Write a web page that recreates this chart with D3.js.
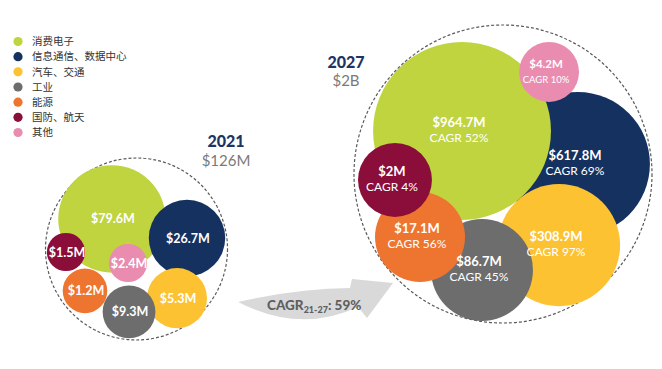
<!DOCTYPE html>
<html><head><meta charset="utf-8">
<script src="https://cdn.jsdelivr.net/npm/d3@7"></script>
<style>
html,body{margin:0;padding:0;background:#fff;}
svg{display:block;}
</style></head>
<body>
<svg id="chart" width="662" height="369"></svg>
<script>
// ---- data ----
const categories = ["消费电子", "信息通信、数据中心", "汽车、交通", "工业", "能源", "国防、航天", "其他"];
const colors = ["#BFD43F", "#15315F", "#FDC232", "#6D6D6D", "#EE7530", "#8A0D3A", "#E98CB0"];
const values2021 = [79.6, 26.7, 5.3, 9.3, 1.2, 1.5, 2.4];
const labels2021 = ["$79.6M", "$26.7M", "$5.3M", "$9.3M", "$1.2M", "$1.5M", "$2.4M"];
const values2027 = [964.7, 617.8, 308.9, 86.7, 17.1, 2, 4.2];
const labels2027 = ["$964.7M", "$617.8M", "$308.9M", "$86.7M", "$17.1M", "$2M", "$4.2M"];
const cagr2027 = ["CAGR 52%", "CAGR 69%", "CAGR 97%", "CAGR 45%", "CAGR 56%", "CAGR 4%", "CAGR 10%"];
const totals = [{year: "2021", total: "$126M"}, {year: "2027", total: "$2B"}];
const overallCagr = "59%";

// ---- layout (normalised to cluster radius; not data) ----
const layout2021 = [[-0.27,-0.33,0.59],[0.555,-0.12,0.42],[0.445,0.54,0.33],[-0.082,0.69,0.29],[-0.566,0.46,0.245],[-0.775,0.033,0.21],[-0.093,0.154,0.21]];
const order2021 = [0,1,5,6,4,2,3];
const layout2027 = [[-0.275,-0.289,0.597],[0.503,-0.067,0.483],[0.376,0.477,0.41],[-0.141,0.644,0.342],[-0.557,0.423,0.302],[-0.725,0.04,0.248],[0.309,-0.685,0.201]];
const order2027 = [1,0,2,3,4,5,6];

const svg = d3.select("#chart");
const FONT = "Lato, 'Open Sans', sans-serif";

// legend
const ly = d3.scalePoint().domain(categories).range([41.5, 132.5]);
const leg = svg.append("g");
categories.forEach((c, i) => {
  leg.append("circle").attr("cx", 18).attr("cy", ly(c)).attr("r", 4.6).attr("fill", colors[i]);
  leg.append("text").attr("x", 32).attr("y", ly(c) + 3.8).text(c)
    .attr("font-family", "'Noto Sans CJK SC', sans-serif").attr("font-size", 10.5).attr("fill", "#333");
});

function cluster(cx, cy, R, layout, order, labels, cagrs) {
  const sx = d3.scaleLinear().domain([-1, 1]).range([cx - R, cx + R]);
  const sy = d3.scaleLinear().domain([-1, 1]).range([cy - R, cy + R]);
  const sr = d3.scaleLinear().domain([0, 1]).range([0, R]);
  const g = svg.append("g");
  g.append("circle").attr("cx", cx).attr("cy", cy).attr("r", R)
    .attr("fill", "none").attr("stroke", "#5a5a5a").attr("stroke-width", 1.2).attr("stroke-dasharray", "3,2");
  order.forEach(i => {
    const [x, y, r] = layout[i];
    g.append("circle").attr("cx", sx(x)).attr("cy", sy(y)).attr("r", sr(r)).attr("fill", colors[i]);
  });
  order.forEach(i => {
    const [x, y, r] = layout[i];
    const fsz = cagrs ? (i === 6 ? 11.5 : 13) : 12.5;
    if (cagrs) {
      g.append("text").attr("x", sx(x) - 3).attr("y", sy(y) - 4).attr("text-anchor", "middle")
        .attr("font-family", FONT).attr("font-weight", "bold").attr("font-size", fsz).attr("fill", "#fff").text(labels[i]);
      g.append("text").attr("x", sx(x) - 3).attr("y", sy(y) + 11).attr("text-anchor", "middle")
        .attr("font-family", FONT).attr("font-size", i === 6 ? 9.5 : 12).attr("fill", "#fff").text(cagrs[i]);
    } else {
      g.append("text").attr("x", sx(x) + 1).attr("y", sy(y) + 4.5).attr("text-anchor", "middle")
        .attr("font-family", FONT).attr("font-weight", "bold").attr("font-size", fsz).attr("fill", "#fff").text(labels[i]);
    }
  });
}

cluster(136.5, 249, 91, layout2021, order2021, labels2021, null);
cluster(503, 174, 149, layout2027, order2027, labels2027, cagr2027);

// year totals
const tpos = [[226, 147, 166], [346, 68, 86]];
totals.forEach((t, i) => {
  svg.append("text").attr("x", tpos[i][0]).attr("y", tpos[i][1]).attr("text-anchor", "middle")
    .attr("font-family", FONT).attr("font-weight", 900).attr("font-size", 16).attr("fill", "#1C3563").text(t.year);
  svg.append("text").attr("x", tpos[i][0]).attr("y", tpos[i][2]).attr("text-anchor", "middle")
    .attr("font-family", FONT).attr("font-size", 15).attr("fill", "#7a7a7a").text(t.total);
});

// growth arrow
const arrow = d3.path();
arrow.moveTo(238, 302);
arrow.quadraticCurveTo(300, 288, 350, 288);
arrow.lineTo(352, 279);
arrow.lineTo(393, 283);
arrow.lineTo(367, 318);
arrow.lineTo(358, 307);
arrow.quadraticCurveTo(300, 334, 238, 302);
arrow.closePath();
svg.append("path").attr("d", arrow.toString()).attr("fill", "#D9D9D9");

const at = svg.append("text").attr("x", 267).attr("y", 310)
  .attr("font-family", FONT).attr("font-weight", 900).attr("font-size", 13.5).attr("fill", "#5f5f5f");
at.append("tspan").text("CAGR");
at.append("tspan").attr("font-size", 9).attr("dy", 2.5).text("21-27");
at.append("tspan").attr("dy", -2.5).text(": " + overallCagr);
</script>
</body></html>
